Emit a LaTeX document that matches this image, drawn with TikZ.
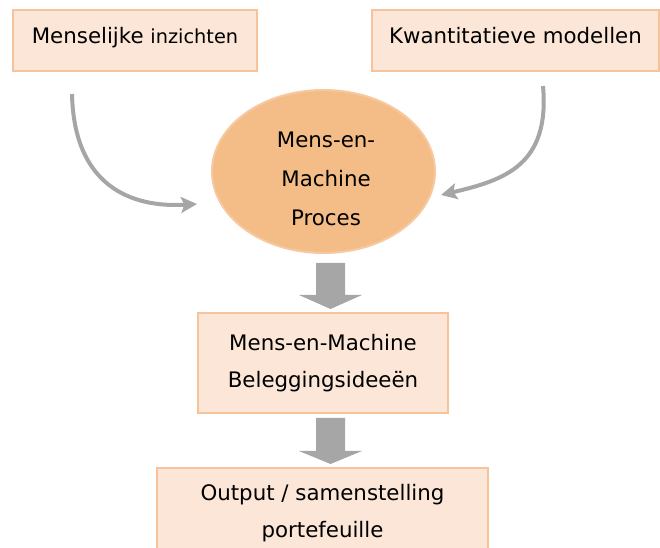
\documentclass[tikz,border=0pt]{standalone}
\usepackage{fontspec}
\setmainfont{DejaVu Sans}
\usetikzlibrary{arrows.meta,shapes.geometric,calc}
\definecolor{boxfill}{HTML}{FBE6D7}
\definecolor{boxline}{HTML}{F7C39B}
\definecolor{procfill}{HTML}{F4BD87}
\definecolor{procline}{HTML}{F6C9A0}
\definecolor{arrowgray}{HTML}{A6A6A6}

\begin{document}
\begin{tikzpicture}[x = 0.75pt, y = -0.75pt, align = center,
                    font = \fontsize{16pt}{27.5pt}\selectfont,
                    box/.style = {draw = boxline, fill = boxfill, line width = 1.5pt, inner sep = 0pt},
                    procshape/.style = {ellipse, draw = procline, fill = procfill, line width = 1.5pt,
                                        inner sep = 0pt, minimum width = 167.25pt, minimum height = 122.25pt},
                    curve/.style = {draw = arrowgray, line width = 3pt,
                                    -{Stealth[length = 12pt, width = 12pt, inset = 2.5pt]}},
                    block/.style = {fill = arrowgray}]
                    \clip (0, 0) rectangle (660, 548);

                    \node[box, minimum width = 183pt, minimum height = 45.75pt, text height = 11pt, text depth = 7pt]
                        (human) at (135, 40.5) {Menselijke {\fontsize{14.5pt}{27.5pt}\selectfont inzichten}};
                    \node[box, minimum width = 215.25pt, minimum height = 45.75pt, text height = 11pt, text depth = 7pt]
                        (models) at (515.5, 40.5) {Kwantitatieve modellen};
                    \node[procshape] (proc) at (323.5, 171.5) {};
                    \node[font = \fontsize{16pt}{29pt}\selectfont] (proctext) at (326, 179) {Mens-en-\\Machine\\Proces};
                    \node[box, minimum width = 187.5pt, minimum height = 75pt]
                        (ideas) at (323, 363) {Mens-en-Machine\\Beleggingsideeën};
                    \node[box, minimum width = 248.25pt, minimum height = 67.5pt]
                        (output) at (322.5, 513) {Output / samenstelling\\portefeuille};

                    \draw[curve] ($(human.south west) + (60, 22)$) .. controls (74, 185) and (130, 208) .. ($(proc.west) + (-14, 32.5)$);
                    \draw[curve] ($(models.south east) + (-117, 14)$) .. controls (550, 165) and (505, 180) .. ($(proc.east) + (5, 23.5)$);

                    \fill[block] ($(proc.south) + (-7.5, 9)$) -- ($(ideas.north) + (-7, -17)$) -- ($(ideas.north) + (-24, -17)$)
                        -- ($(ideas.north) + (7.5, -3)$) -- ($(ideas.north) + (39, -17)$) -- ($(ideas.north) + (22, -17)$)
                        -- ($(proc.south) + (21.5, 9)$) -- cycle;
                    \fill[block] ($(ideas.south) + (-7, 4)$) -- ($(output.north) + (-6.5, -16)$) -- ($(output.north) + (-23.5, -16)$)
                        -- ($(output.north) + (8, -3)$) -- ($(output.north) + (39.5, -16)$) -- ($(output.north) + (22.5, -16)$)
                        -- ($(ideas.south) + (22, 4)$) -- cycle;
                \end{tikzpicture}
\end{document}
